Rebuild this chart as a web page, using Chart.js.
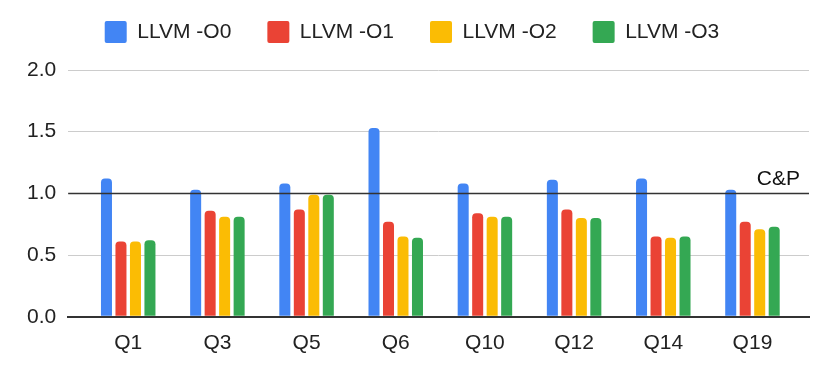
<!DOCTYPE html>
<html>
<head>
<meta charset="utf-8">
<script src="https://cdn.jsdelivr.net/npm/chart.js@4/dist/chart.umd.min.js"></script>
<style>
  html, body { margin: 0; padding: 0; background: #fff; }
  #wrap { width: 830px; height: 373px; }
</style>
</head>
<body>
<div id="wrap"><canvas id="cpChart"></canvas></div>
<script>
// queries on the x axis
const queries = ['Q1', 'Q3', 'Q5', 'Q6', 'Q10', 'Q12', 'Q14', 'Q19'];

// relative to C&P (= 1.0)
const llvmO0 = [1.12, 1.03, 1.08, 1.53, 1.08, 1.11, 1.12, 1.03];
const llvmO1 = [0.61, 0.86, 0.87, 0.77, 0.84, 0.87, 0.65, 0.77];
const llvmO2 = [0.61, 0.81, 0.99, 0.65, 0.81, 0.80, 0.64, 0.71];
const llvmO3 = [0.62, 0.81, 0.99, 0.64, 0.81, 0.80, 0.65, 0.73];

const yTicks = [0, 0.5, 1.0, 1.5, 2.0];
const refValue = 1.0;
const refLabel = 'C&P';

Chart.defaults.font.family = "'Liberation Sans', Arial, sans-serif";
Chart.defaults.font.size = 21;
Chart.defaults.color = '#222';

// black reference line at C&P plus its label
const refLine = {
  id: 'refLine',
  afterDatasetsDraw(chart) {
    const { ctx, chartArea, scales } = chart;
    const y = scales.y.getPixelForValue(refValue);
    ctx.save();
    ctx.strokeStyle = '#333';
    ctx.lineWidth = 1.5;
    ctx.beginPath();
    ctx.moveTo(chartArea.left, y);
    ctx.lineTo(chartArea.right, y);
    ctx.stroke();
    ctx.fillStyle = '#111';
    ctx.font = "21px 'Liberation Sans', Arial, sans-serif";
    ctx.textAlign = 'right';
    ctx.textBaseline = 'alphabetic';
    ctx.fillText(refLabel, chartArea.right - 9, y - 8);
    ctx.restore();
  }
};

// more room under the legend
const legendGap = {
  id: 'legendGap',
  beforeInit(chart) {
    const origFit = chart.legend.fit;
    chart.legend.fit = function () {
      origFit.bind(chart.legend)();
      this.height += 17;
    };
  }
};

function makeSet(label, data, color) {
  return {
    label: label,
    data: data,
    backgroundColor: color,
    borderRadius: 4,
    categoryPercentage: 0.65,
    barPercentage: 0.76
  };
}

const ctx = document.getElementById('cpChart').getContext('2d');
const cpChart = new Chart(ctx, {
  type: 'bar',
  data: {
    labels: queries,
    datasets: [
      makeSet('LLVM -O0', llvmO0, '#4285F4'),
      makeSet('LLVM -O1', llvmO1, '#EA4335'),
      makeSet('LLVM -O2', llvmO2, '#FBBC04'),
      makeSet('LLVM -O3', llvmO3, '#34A853')
    ]
  },
  options: {
    responsive: true,
    maintainAspectRatio: false,
    animation: false,
    layout: { padding: { top: -15, left: 15, right: 21, bottom: 11 } },
    plugins: {
      legend: {
        position: 'top',
        labels: {
          boxWidth: 22,
          boxHeight: 22,
          useBorderRadius: true,
          borderRadius: 2,
          padding: 36,
          color: '#222'
        }
      },
      tooltip: { enabled: false }
    },
    scales: {
      x: {
        grid: { display: false },
        border: { display: true, color: '#333', width: 2 },
        ticks: { padding: 6, color: '#222' },
        afterBuildTicks(axis) {
          // a bit of room at both ends, like the original
          axis._startValue -= 0.173;
          axis._valueRange += 0.307;
        }
      },
      y: {
        min: 0,
        max: 2,
        afterBuildTicks(axis) {
          axis.ticks = yTicks.map(v => ({ value: v }));
        },
        border: { display: false },
        grid: {
          drawTicks: false,
          color: c => (c.tick.value === 0 ? '#333' : '#ccc'),
          lineWidth: c => (c.tick.value === 0 ? 2 : 1)
        },
        ticks: {
          padding: 12,
          color: '#222',
          callback: v => Number(v).toFixed(1)
        }
      }
    }
  },
  plugins: [refLine, legendGap]
});
</script>
</body>
</html>
